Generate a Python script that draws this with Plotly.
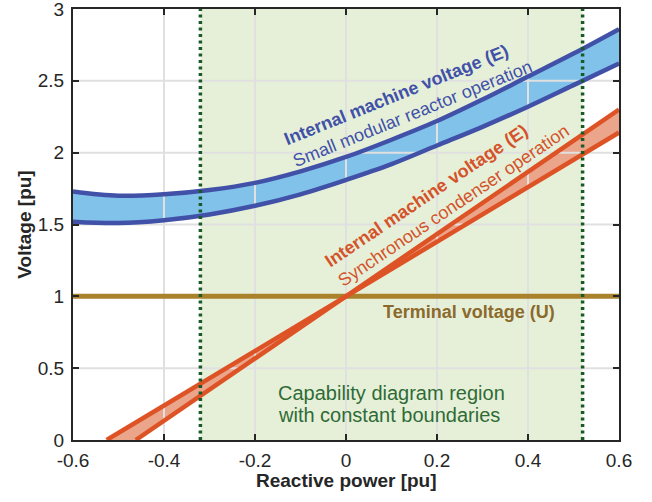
import plotly.graph_objects as go

# ---- data ----
q_pts = [-0.6, -0.5, -0.4, -0.3, -0.2, -0.1, 0.0, 0.1, 0.2, 0.3, 0.4, 0.5, 0.6]
smr_upper = [1.73, 1.70, 1.71, 1.74, 1.79, 1.87, 1.97, 2.09, 2.22, 2.37, 2.53, 2.69, 2.86]
smr_lower = [1.52, 1.51, 1.53, 1.57, 1.63, 1.71, 1.81, 1.92, 2.05, 2.18, 2.32, 2.47, 2.62]

sc_q_a = [-0.526, 0.0, 0.6]
sc_e_a = [0.0, 1.0, 2.14]
sc_q_b = [-0.462, 0.0, 0.6]
sc_e_b = [0.0, 1.0, 2.30]

terminal_q = [-0.6, 0.6]
terminal_u = [1.0, 1.0]

capability_bounds = [-0.32, 0.52]

x_tickvals = [-0.6, -0.4, -0.2, 0.0, 0.2, 0.4, 0.6]
x_ticktext = ["-0.6", "-0.4", "-0.2", "0", "0.2", "0.4", "0.6"]
y_tickvals = [0, 0.5, 1, 1.5, 2, 2.5, 3]
y_ticktext = ["0", "0.5", "1", "1.5", "2", "2.5", "3"]

X_RANGE = [-0.6, 0.6]
Y_RANGE = [0, 3]

FONT = "Liberation Sans, Arial, Helvetica, sans-serif"
BLUE = "#4151A8"
BLUE_FILL = "#80C2EA"
ORANGE = "#DD5326"
ORANGE_FILL = "#EBA58B"
GOLD = "#A9822B"
GREEN_BG = "#E6F0D9"
GREEN_DOT = "#1A5A28"
GRID = "#E0E0E0"
INK = "#262626"

fig = go.Figure()

# capability region background
fig.add_shape(type="rect", xref="x", yref="y",
              x0=capability_bounds[0], x1=capability_bounds[1],
              y0=Y_RANGE[0], y1=Y_RANGE[1],
              fillcolor=GREEN_BG, line_width=0, layer="below")

# fills
fig.add_trace(go.Scatter(x=q_pts, y=smr_lower, mode="lines",
                         line=dict(width=0, shape="spline", color=BLUE),
                         hoverinfo="skip", showlegend=False))
fig.add_trace(go.Scatter(x=q_pts, y=smr_upper, mode="lines", fill="tonexty",
                         fillcolor=BLUE_FILL,
                         line=dict(width=0, shape="spline", color=BLUE),
                         hoverinfo="skip", showlegend=False))
fig.add_trace(go.Scatter(x=sc_q_a, y=sc_e_a, mode="lines",
                         line=dict(width=0, color=ORANGE),
                         hoverinfo="skip", showlegend=False))
fig.add_trace(go.Scatter(x=sc_q_b, y=sc_e_b, mode="lines", fill="tonexty",
                         fillcolor=ORANGE_FILL,
                         line=dict(width=0, color=ORANGE),
                         hoverinfo="skip", showlegend=False))

# grid lines (drawn above fills, below curves)
gx, gy = [], []
for v in x_tickvals[1:-1]:
    gx += [v, v, None]
    gy += [Y_RANGE[0], Y_RANGE[1], None]
for v in y_tickvals[1:-1]:
    gx += [X_RANGE[0], X_RANGE[1], None]
    gy += [v, v, None]
fig.add_trace(go.Scatter(x=gx, y=gy, mode="lines",
                         line=dict(width=2, color=GRID),
                         hoverinfo="skip", showlegend=False))

# curves
fig.add_trace(go.Scatter(x=terminal_q, y=terminal_u, mode="lines",
                         line=dict(width=5, color=GOLD), showlegend=False))
fig.add_trace(go.Scatter(x=q_pts, y=smr_upper, mode="lines",
                         line=dict(width=4.5, shape="spline", color=BLUE), showlegend=False))
fig.add_trace(go.Scatter(x=q_pts, y=smr_lower, mode="lines",
                         line=dict(width=4.5, shape="spline", color=BLUE), showlegend=False))
fig.add_trace(go.Scatter(x=sc_q_a, y=sc_e_a, mode="lines",
                         line=dict(width=4.5, color=ORANGE), showlegend=False))
fig.add_trace(go.Scatter(x=sc_q_b, y=sc_e_b, mode="lines",
                         line=dict(width=4.5, color=ORANGE), showlegend=False))

# capability boundaries (dotted)
for b in capability_bounds:
    fig.add_trace(go.Scatter(x=[b, b], y=Y_RANGE, mode="lines",
                             line=dict(width=3.5, color=GREEN_DOT, dash="3px,3.5px"),
                             showlegend=False))

# annotations
fig.add_annotation(x=0.137, y=2.35, xref="x", yref="y", showarrow=False,
                   textangle=-22, align="left",
                   text="<b>Internal machine voltage (E)</b><br>Small modular reactor operation",
                   font=dict(family=FONT, size=18, color=BLUE))
fig.add_annotation(x=0.223, y=1.70, xref="x", yref="y", showarrow=False,
                   textangle=-34, align="left",
                   text="<b>Internal machine voltage (E)</b><br>Synchronous condenser operation",
                   font=dict(family=FONT, size=18, color="#D4532A"))
fig.add_annotation(x=0.271, y=0.89, xref="x", yref="y", showarrow=False,
                   text="<b>Terminal voltage (U)</b>",
                   font=dict(family=FONT, size=18, color="#8B6A2B"))
fig.add_annotation(x=-0.153, y=0.327, xref="x", yref="y", showarrow=False,
                   xanchor="left", text="Capability diagram region",
                   font=dict(family=FONT, size=20, color="#2F6B36"))
fig.add_annotation(x=-0.153, y=0.175, xref="x", yref="y", showarrow=False,
                   xanchor="left", text="with constant boundaries",
                   font=dict(family=FONT, size=20, color="#2F6B36"))
# x-axis title (placed as annotation for exact vertical position)
fig.add_annotation(x=0.5, y=-0.0935, xref="paper", yref="paper", showarrow=False,
                   xanchor="center", yanchor="middle",
                   text="<b>Reactive power [pu]</b>",
                   font=dict(family=FONT, size=19, color=INK))

axis_common = dict(showgrid=False, zeroline=False, showline=True, linewidth=2,
                   linecolor=INK, mirror="ticks", ticks="inside",
                   ticklen=6, tickwidth=2, tickcolor=INK, automargin=False,
                   ticklabeloverflow="allow",
                   tickfont=dict(family=FONT, size=19, color=INK))

fig.update_xaxes(range=X_RANGE, tickvals=x_tickvals, ticktext=x_ticktext,
                 ticklabelstandoff=2, **axis_common)
fig.update_yaxes(range=Y_RANGE, tickvals=y_tickvals, ticktext=y_ticktext,
                 ticklabelstandoff=3,
                 title=dict(text="<b>Voltage [pu]</b>", standoff=1,
                            font=dict(family=FONT, size=19, color=INK)),
                 **axis_common)

fig.update_layout(width=652, height=502, template="none",
                  margin=dict(l=73, r=33, t=9, b=62, pad=0),
                  plot_bgcolor="white", paper_bgcolor="white",
                  showlegend=False)

fig.write_html("out.html",
               config={"displayModeBar": False},
               post_script="document.body.style.margin='0';document.body.style.overflow='hidden';")
